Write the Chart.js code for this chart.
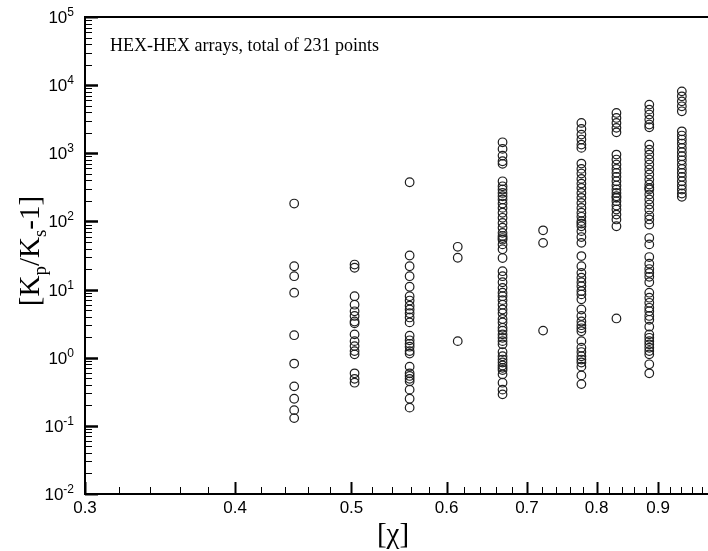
<!DOCTYPE html>
<html>
<head>
<meta charset="utf-8">
<script src="https://cdn.jsdelivr.net/npm/chart.js@4.4.1/dist/chart.umd.min.js"></script>
<style>
  html, body { margin: 0; padding: 0; background: #fff; overflow: hidden; }
  #wrap { width: 708px; height: 551px; overflow: hidden; }
</style>
</head>
<body>
<div id="wrap"><canvas id="chart" width="730" height="551"></canvas></div>
<script>
// ------------------------------------------------------------
// data: one column of points per chi value
// ------------------------------------------------------------
const chiValues = [0.448, 0.503, 0.559, 0.613, 0.668, 0.722, 0.777, 0.831, 0.885, 0.942];

const ratio0448 = [183, 22, 15.7, 9.0, 2.14, 0.82, 0.38, 0.25, 0.17, 0.13];
const ratio0503 = [23.3, 20.9, 8.0, 6.0, 4.8, 4.1, 3.4, 3.2, 2.2, 1.75, 1.48, 1.25, 1.12, 0.59, 0.49, 0.43];
const ratio0559 = [376, 31.6, 22, 15.7, 11, 8, 6.9, 5.8, 5.1, 4.5, 3.9, 3.3, 2.1, 1.8, 1.6, 1.45, 1.25, 1.15,
                   0.74, 0.59, 0.54, 0.49, 0.45, 0.34, 0.25, 0.185];
const ratio0613 = [42.4, 29.3, 1.75];
const ratio0668 = [1450, 1160, 925, 764, 700, 388, 328, 294, 262, 234, 210, 183, 158, 134, 113, 95, 81, 68, 61,
                   57, 54, 46, 39, 29, 18.6, 15.7, 12.8, 10.6, 9.0, 8.0, 7.0, 6.0, 5.1, 4.5, 3.7, 3.3, 2.75, 2.5,
                   2.2, 1.96, 1.75, 1.57, 1.21, 1.05, 0.94, 0.85, 0.77, 0.71, 0.66, 0.57, 0.43, 0.34, 0.29];
const ratio0722 = [74, 48.5, 2.5];
const ratio0777 = [2790, 2280, 1880, 1590, 1340, 1200, 706, 590, 504, 421, 359, 310, 262, 222, 187, 158, 134,
                   117, 101, 93, 85, 72, 59, 48.5, 31, 22, 17.6, 14.9, 12.8, 11.2, 9.5, 8.5, 7.2, 5.1, 4.1, 3.4,
                   3.0, 2.7, 2.45, 1.75, 1.4, 1.21, 1.05, 0.94, 0.85, 0.74, 0.55, 0.41];
const ratio0831 = [3910, 3300, 2790, 2360, 2030, 957, 809, 684, 590, 516, 451, 389, 336, 294, 262, 234, 222,
                   198, 171, 150, 126, 107, 85, 3.77];
const ratio0885 = [5180, 4370, 3700, 3120, 2640, 2410, 1340, 1130, 957, 809, 684, 577, 488, 412, 348, 311, 294,
                   248, 210, 177, 150, 122, 107, 90, 57, 46, 30, 24, 20, 17.6, 15.4, 12.8, 9.0, 7.6, 6.4, 5.4,
                   4.8, 4.1, 3.6, 2.85, 2.2, 1.96, 1.75, 1.57, 1.4, 1.25, 1.12, 0.80, 0.59];
const ratio0942 = [8110, 6850, 5780, 4890, 4130, 2100, 1820, 1590, 1390, 1200, 1040, 904, 789, 682, 590, 516,
                   451, 389, 336, 294, 257, 230];

const ratioColumns = [ratio0448, ratio0503, ratio0559, ratio0613, ratio0668,
                      ratio0722, ratio0777, ratio0831, ratio0885, ratio0942];

// axis labels
const xTickLabels = [0.3, 0.4, 0.5, 0.6, 0.7, 0.8, 0.9];
const yTickExponents = [-2, -1, 0, 1, 2, 3, 4, 5];
const noteText = 'HEX-HEX arrays, total of 231 points';

// flatten columns into scatter points
const points = [];
ratioColumns.forEach((col, i) => {
  col.forEach(v => points.push({ x: chiValues[i], y: v }));
});

const SANS = '"Liberation Sans", Arial, sans-serif';
const SERIF = '"Liberation Serif", "Times New Roman", serif';

// inward ticks, tick labels with superscripts, titles, box
const framePlugin = {
  id: 'framePlugin',
  afterDraw(chart) {
    const { ctx, chartArea: a, scales: { x, y } } = chart;
    ctx.save();
    ctx.strokeStyle = '#000';
    ctx.fillStyle = '#000';

    // top / right edges of the box
    ctx.lineWidth = 2;
    ctx.beginPath();
    ctx.moveTo(a.left - 1, a.top);
    ctx.lineTo(a.right, a.top);
    ctx.lineTo(a.right, a.bottom);
    ctx.stroke();

    // x ticks (major every 0.1, minor every 0.02)
    for (let k = 15; k <= 50; k++) {
      const major = k % 5 === 0;
      const px = Math.round(x.getPixelForValue(k / 50)) + 0.5;
      ctx.lineWidth = major ? 2 : 1;
      ctx.beginPath();
      ctx.moveTo(px, a.bottom);
      ctx.lineTo(px, a.bottom - (major ? 12 : 7));
      ctx.stroke();
    }

    // y ticks (major per decade, minor 2..9)
    for (let e = -2; e <= 4; e++) {
      for (let m = 1; m <= 10; m++) {
        const major = m === 1 || m === 10;
        const py = Math.round(y.getPixelForValue(m * Math.pow(10, e))) + 0.5;
        ctx.lineWidth = major ? 2 : 1;
        ctx.beginPath();
        ctx.moveTo(a.left, py);
        ctx.lineTo(a.left + (major ? 13 : 7), py);
        ctx.stroke();
      }
    }

    // x tick labels
    ctx.font = '17px ' + SANS;
    ctx.textAlign = 'center';
    ctx.textBaseline = 'alphabetic';
    xTickLabels.forEach(v => {
      ctx.fillText(v.toFixed(1), x.getPixelForValue(v), 513);
    });

    // y tick labels 10^n
    yTickExponents.forEach(e => {
      const py = y.getPixelForValue(Math.pow(10, e));
      const sup = String(e);
      ctx.font = '12px ' + SANS;
      const sw = ctx.measureText(sup).width;
      ctx.font = '17px ' + SANS;
      const bw = ctx.measureText('10').width;
      const right = 74;
      ctx.textAlign = 'left';
      ctx.fillText('10', right - sw - bw, py + 6);
      ctx.font = '12px ' + SANS;
      ctx.fillText(sup, right - sw, py - 1);
    });

    // x title
    ctx.font = '29px ' + SERIF;
    ctx.textAlign = 'center';
    ctx.fillText('[\u03c7]', 393, 543);

    // y title [K_p/K_s-1], rotated
    const parts = [
      ['[K', 29, 0], ['p', 19, 7], ['/K', 29, 0], ['s', 19, 7], ['-1]', 29, 0]
    ];
    ctx.save();
    ctx.translate(39, 251);
    ctx.rotate(-Math.PI / 2);
    ctx.textAlign = 'left';
    let total = 0;
    parts.forEach(p => { ctx.font = p[1] + 'px ' + SERIF; total += ctx.measureText(p[0]).width; });
    let cx = -total / 2;
    parts.forEach(p => {
      ctx.font = p[1] + 'px ' + SERIF;
      ctx.fillText(p[0], cx, p[2]);
      cx += ctx.measureText(p[0]).width;
    });
    ctx.restore();

    // note
    ctx.font = '18px ' + SERIF;
    ctx.textAlign = 'left';
    ctx.fillText(noteText, 110, 51);

    ctx.restore();
  }
};

new Chart(document.getElementById('chart'), {
  type: 'scatter',
  data: {
    datasets: [{
      data: points,
      pointStyle: 'circle',
      pointRadius: 4.3,
      pointBorderWidth: 1.2,
      pointBorderColor: '#1e1e1e',
      pointBackgroundColor: 'rgba(0,0,0,0)'
    }]
  },
  options: {
    responsive: false,
    animation: false,
    events: [],
    layout: { padding: { top: 17, right: 17, left: 0, bottom: 0 } },
    plugins: { legend: { display: false }, tooltip: { enabled: false } },
    scales: {
      x: {
        type: 'logarithmic',
        min: 0.3,
        max: 1.0,
        grid: { display: false },
        ticks: { display: false },
        border: { display: true, color: '#000', width: 2 },
        afterFit: s => { s.height = 57; }
      },
      y: {
        type: 'logarithmic',
        min: 0.01,
        max: 100000,
        grid: { display: false },
        ticks: { display: false },
        border: { display: true, color: '#000', width: 2 },
        afterFit: s => { s.width = 85; }
      }
    }
  },
  plugins: [framePlugin]
});
</script>
</body>
</html>
